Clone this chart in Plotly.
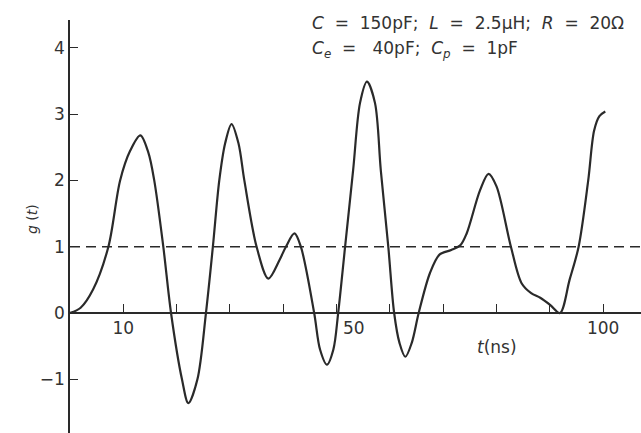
import plotly.graph_objects as go

# Time t (ns) and g(t)
t_ns = [0, 2.0, 4.3, 7.2, 9.4, 11.3, 13.2, 14.7, 15.8, 17.5, 18.95,
        21.0, 22.2, 23.9, 25.5, 26.8, 28.0, 29.1, 30.3, 31.6, 32.7, 35.0, 37.2,
        39.3, 40.5, 42.1, 43.3, 45.8, 46.9, 48.2, 49.4, 50.3, 51.6, 53.1, 54.4,
        55.7, 57.2, 58.3, 59.7, 60.8, 61.8, 62.9, 64.1, 65.4, 67.5, 69.3, 71.5, 73.2,
        74.4, 76.9, 78.5, 80.0, 82.7, 84.7, 86.5, 88.2, 90.1, 91.9, 93.7, 95.4,
        97.2, 98.3, 99.3, 100.4]
g_t = [0, 0.08, 0.35, 1.0, 2.0, 2.45, 2.68, 2.42, 2.0, 1.0, 0.0,
       -1.0, -1.36, -1.0, 0.0, 1.0, 2.0, 2.56, 2.85, 2.56, 2.0, 1.0, 0.52,
       0.80, 1.0, 1.2, 1.0, 0.0, -0.55, -0.78, -0.55, 0.0, 1.0, 2.15, 3.17,
       3.49, 3.17, 2.15, 1.0, 0.0, -0.45, -0.66, -0.45, 0.0, 0.60, 0.88, 0.95, 1.02,
       1.2, 1.85, 2.10, 1.91, 1.0, 0.45, 0.30, 0.23, 0.12, 0.0, 0.5, 1.0,
       2.0, 2.75, 2.97, 3.04]

ref_level = 1.0
x_label_vals = [10, 100]
x_label_text = ["10", "100"]
x_minor_ticks = [10, 20, 30, 40, 50, 60, 70, 80, 90, 100]
y_ticks = [-1, 0, 1, 2, 3, 4]
x_range = [0, 107.1]
y_range = [-1.81, 4.42]

INK = "#2a2a2a"
TXT = "#333333"
FONT = "DejaVu Sans"
NB = "\u00a0"

fig = go.Figure()
fig.add_trace(go.Scatter(
    x=t_ns, y=g_t, mode="lines",
    line=dict(color=INK, width=2.2, shape="spline", smoothing=0.9),
    hoverinfo="skip", showlegend=False))

# dashed reference level g = 1
fig.add_shape(type="line", xref="paper", x0=0, x1=1, yref="y", y0=ref_level, y1=ref_level,
              line=dict(color=INK, width=1.6, dash="10px,6px"))

x_pos = (0 - y_range[0]) / (y_range[1] - y_range[0])

fig.update_layout(
    width=641, height=433,
    margin=dict(l=70, r=0, t=20, b=0, autoexpand=False),
    paper_bgcolor="white", plot_bgcolor="white",
    font=dict(family=FONT, color=TXT, size=17),
    xaxis=dict(range=x_range, showgrid=False, zeroline=False, automargin=False,
               showline=True, linecolor=INK, linewidth=1.5,
               anchor="free", position=x_pos,
               tickmode="array", tickvals=x_label_vals, ticktext=x_label_text,
               ticks="inside", ticklen=8, tickwidth=1.3, tickcolor=INK,
               minor=dict(tickmode="array", tickvals=x_minor_ticks, ticks="inside",
                          ticklen=8, tickwidth=1.3, tickcolor=INK, showgrid=False),
               tickfont=dict(size=17, color=TXT, family=FONT)),
    yaxis=dict(range=y_range, showgrid=False, zeroline=False, automargin=False,
               showline=True, linecolor=INK, linewidth=1.5,
               tickmode="array", tickvals=y_ticks,
               ticks="inside", ticklen=8, tickwidth=1.3, tickcolor=INK,
               tickfont=dict(size=17, color=TXT, family=FONT)),
)

line1 = ("<i>C</i>" + NB + " =" + NB + " 150pF;  <i>L</i>" + NB + " =" + NB +
         " 2.5μH;  <i>R</i>" + NB + " =" + NB + " 20Ω")
line2 = ("<i>C</i><sub><i>e</i></sub>" + NB + " =" + NB + NB + " 40pF;  <i>C</i><sub><i>p</i></sub>" +
         NB + " =" + NB + " 1pF")

fig.add_annotation(text=line1, xref="x", yref="y", x=45.0, y=4.38, xanchor="left",
                   yanchor="middle", showarrow=False, font=dict(size=17, color=TXT, family=FONT))
fig.add_annotation(text=line2, xref="x", yref="y", x=45.0, y=3.97, xanchor="left",
                   yanchor="middle", showarrow=False, font=dict(size=17, color=TXT, family=FONT))
fig.add_annotation(text="<i>g</i> (<i>t</i>)", xref="paper", yref="y", x=-0.0674, y=1.41,
                   xanchor="center", yanchor="middle",
                   textangle=-90, showarrow=False, font=dict(size=14, color=TXT, family=FONT))
fig.add_annotation(text="<i>t</i>(ns)", xref="x", yref="y", x=80.0, y=-0.52,
                   showarrow=False, font=dict(size=17, color=TXT, family=FONT))
fig.add_annotation(text="50", xref="x", yref="y", x=53.3, y=0, yanchor="top", yshift=-3,
                   showarrow=False, font=dict(size=17, color=TXT, family=FONT))

fig.write_html("out.html", config={"displayModeBar": False},
               post_script="document.body.style.margin='0';document.body.style.padding='0';")
